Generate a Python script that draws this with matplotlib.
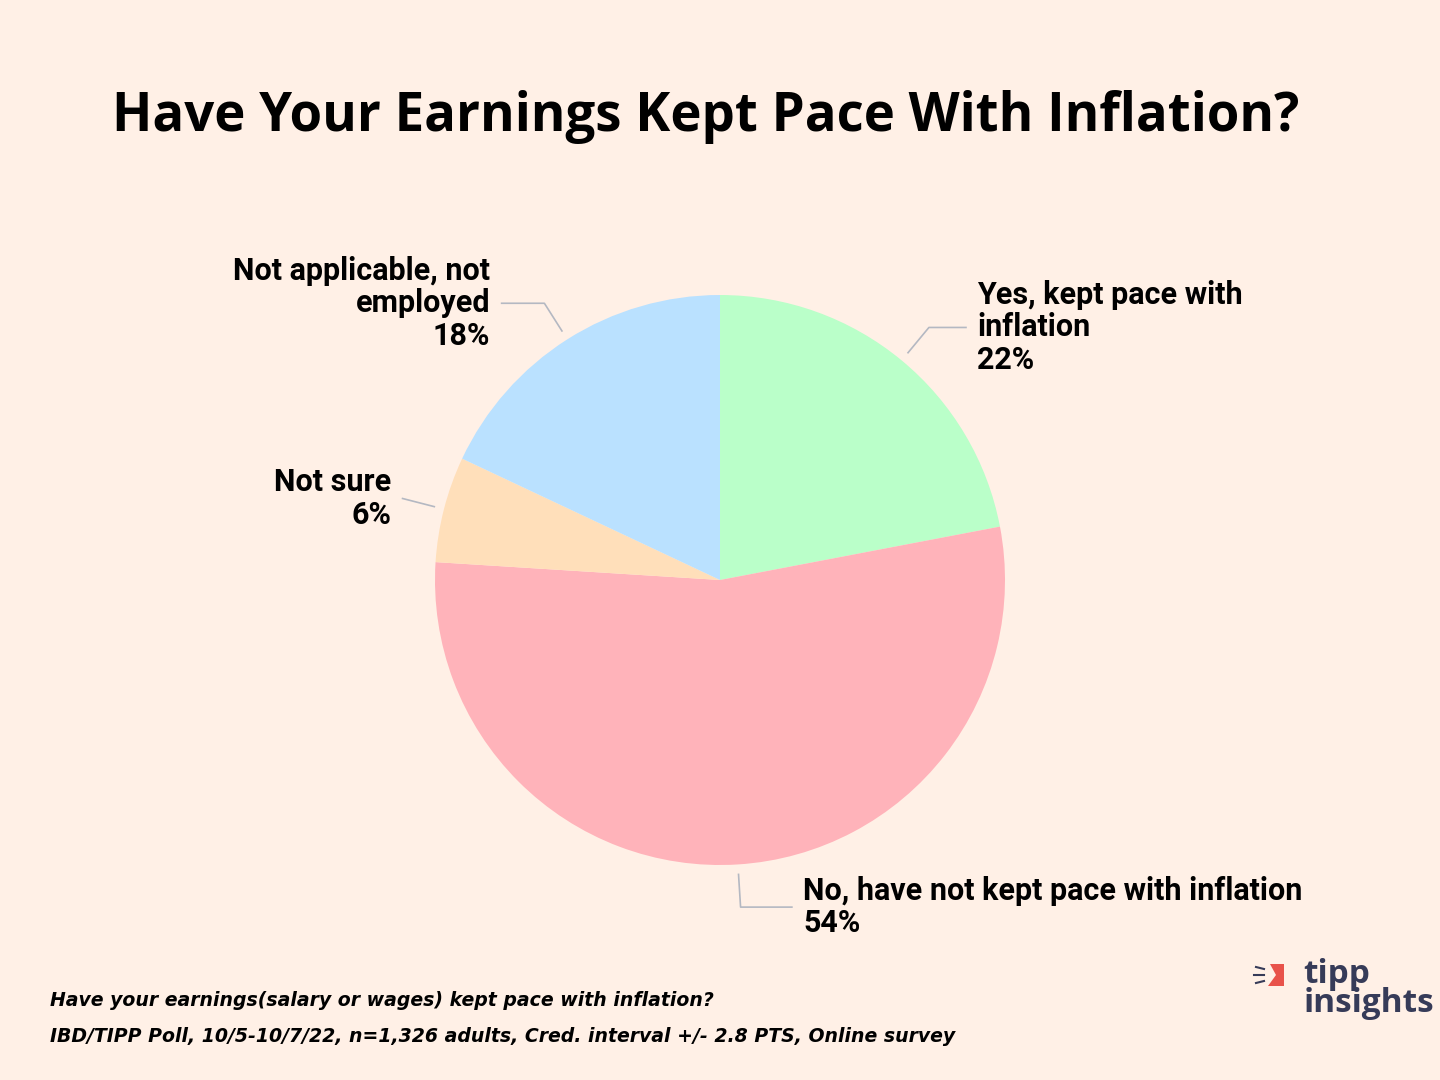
import numpy as np
import matplotlib
matplotlib.use('Agg')
import matplotlib.pyplot as plt
from matplotlib.patches import Polygon

# --- Data ---
labels = ['Yes, kept pace with\ninflation', 'No, have not kept pace with inflation',
          'Not sure', 'Not applicable, not\nemployed']
values = [22, 54, 6, 18]
colors = ['#BAFFC9', '#FFB3BA', '#FFDFBA', '#BAE1FF']
# horizontal length of the leader tail, in data units (radius = 1)
tails = [0.13, 0.18, 0.0, 0.15]

BG = '#FFF0E6'
W, H = 1440, 1080

fig = plt.figure(figsize=(W / 100, H / 100), dpi=100, facecolor=BG)

# pie axes: centre (720, 580) px, radius 285 px
cx, cy, r = 720, 580, 285
ax = fig.add_axes([(cx - r) / W, (H - cy - r) / H, 2 * r / W, 2 * r / H])
ax.set_facecolor(BG)
wedges, _ = ax.pie(values, colors=colors, startangle=90, counterclock=False,
                   wedgeprops=dict(linewidth=0))
ax.set_xlim(-1, 1)
ax.set_ylim(-1, 1)
ax.set_aspect('equal')
ax.axis('off')

# --- Labels with leader lines ---
for w, lab, val, tail in zip(wedges, labels, values, tails):
    ang = np.deg2rad((w.theta1 + w.theta2) / 2)
    x0, y0 = 1.035 * np.cos(ang), 1.035 * np.sin(ang)
    x1, y1 = 1.15 * np.cos(ang), 1.15 * np.sin(ang)
    side = 1 if np.cos(ang) > 0 else -1
    x2 = x1 + side * tail
    ax.plot([x0, x1, x2], [y0, y1, y1], color='#B4B8C2', lw=1.2, clip_on=False)
    ha = 'left' if side > 0 else 'right'
    ax.text(x2 + side * 0.04, y1, f'{lab}\n{val}%', ha=ha, va='center',
            multialignment=ha, fontsize=22, fontfamily='Roboto', fontweight='bold',
            color='black', linespacing=1.1, clip_on=False)

# --- Title ---
fig.text(706 / W, 1 - 117 / H, 'Have Your Earnings Kept Pace With Inflation?',
         ha='center', va='center', fontsize=38, fontweight='bold',
         fontfamily='Open Sans', color='black')

# --- Footnotes ---
fig.text(50 / W, 1 - 1000 / H, 'Have your earnings(salary or wages) kept pace with inflation?',
         ha='left', va='center', fontsize=13.6, fontstyle='italic', fontweight='bold',
         fontfamily='DejaVu Sans', color='black')
fig.text(50 / W, 1 - 1036 / H,
         'IBD/TIPP Poll, 10/5-10/7/22, n=1,326 adults, Cred. interval +/- 2.8 PTS, Online survey',
         ha='left', va='center', fontsize=13.6, fontstyle='italic', fontweight='bold',
         fontfamily='DejaVu Sans', color='black')

# --- Logo ---
navy = '#363B58'
fig.text(1434 / W, 1 - 1012 / H, 'tipp\ninsights', ha='right', va='baseline',
         multialignment='left', fontsize=24, fontweight='bold', fontfamily='Open Sans',
         color=navy, linespacing=0.85)
flag = [(1270, 964), (1284, 964), (1284, 986), (1268, 986), (1276, 975)]
fig.patches.append(Polygon([(x / W, 1 - y / H) for x, y in flag], closed=True,
                           transform=fig.transFigure, facecolor='#E8524A', edgecolor='none'))
for (xa, ya, xb, yb) in [(1256, 967, 1264, 969), (1254, 975, 1264, 975), (1256, 983, 1264, 981)]:
    fig.add_artist(plt.Line2D([xa / W, xb / W], [1 - ya / H, 1 - yb / H],
                              transform=fig.transFigure, color=navy, lw=1.5))

fig.savefig('out.png', dpi=100, facecolor=BG)
